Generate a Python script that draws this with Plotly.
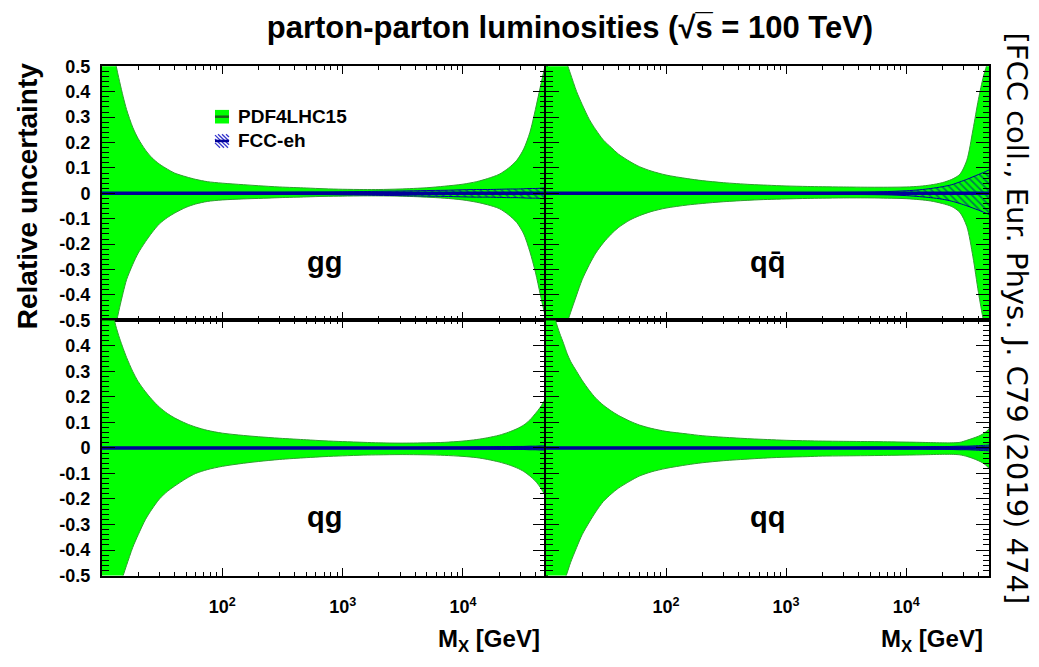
import plotly.graph_objects as go

# ---------------- data ----------------
M = [10, 11, 12, 13, 14, 15, 16, 18, 20, 23, 26, 30, 35, 40, 50, 60, 75, 100, 150, 200,
     300, 500, 700, 1000, 1500, 2000, 3000, 5000, 7000, 10000, 13000, 16000, 20000,
     24000, 28000, 32000, 36000, 40000, 44000, 48000, 52000]

gg_up = [0.85, 0.72, 0.60, 0.51, 0.44, 0.38, 0.33, 0.26, 0.215, 0.17, 0.14, 0.115, 0.095, 0.08,
         0.065, 0.055, 0.046, 0.04, 0.034, 0.03, 0.025, 0.021, 0.018, 0.016, 0.015, 0.015, 0.017,
         0.022, 0.028, 0.036, 0.046, 0.058, 0.075, 0.10, 0.13, 0.175, 0.24, 0.33, 0.42, 0.50, 0.58]
gg_lo = [-0.85, -0.72, -0.60, -0.52, -0.45, -0.39, -0.34, -0.28, -0.235, -0.19, -0.155, -0.12,
         -0.095, -0.078, -0.055, -0.042, -0.032, -0.026, -0.022, -0.02, -0.017, -0.014, -0.012,
         -0.011, -0.01, -0.01, -0.011, -0.015, -0.019, -0.026, -0.035, -0.045, -0.06, -0.085,
         -0.115, -0.16, -0.23, -0.31, -0.40, -0.48, -0.56]
gg_fcc = [0.003, 0.003, 0.003, 0.003, 0.003, 0.003, 0.003, 0.003, 0.003, 0.003, 0.003, 0.003,
          0.003, 0.003, 0.003, 0.003, 0.003, 0.004, 0.004, 0.004, 0.004, 0.005, 0.005, 0.006,
          0.007, 0.008, 0.009, 0.011, 0.012, 0.014, 0.015, 0.015, 0.016, 0.017, 0.017, 0.018,
          0.019, 0.019, 0.020, 0.021, 0.021]

qqb_up = [0.90, 0.80, 0.70, 0.62, 0.56, 0.51, 0.47, 0.40, 0.35, 0.29, 0.25, 0.21, 0.18, 0.155,
          0.125, 0.105, 0.088, 0.072, 0.058, 0.05, 0.042, 0.035, 0.032, 0.029, 0.027, 0.026,
          0.025, 0.024, 0.024, 0.025, 0.028, 0.033, 0.042, 0.055, 0.075, 0.13, 0.25, 0.37, 0.46,
          0.52, 0.58]
qqb_lo = [-0.90, -0.80, -0.70, -0.62, -0.56, -0.51, -0.47, -0.40, -0.34, -0.28, -0.235, -0.195,
          -0.16, -0.135, -0.105, -0.088, -0.072, -0.058, -0.046, -0.04, -0.033, -0.027, -0.024,
          -0.022, -0.02, -0.019, -0.018, -0.018, -0.019, -0.021, -0.025, -0.03, -0.04, -0.052,
          -0.075, -0.13, -0.25, -0.39, -0.50, -0.58, -0.65]
qqb_fcc_up = [0.003, 0.003, 0.003, 0.003, 0.003, 0.003, 0.003, 0.003, 0.003, 0.003, 0.003,
              0.003, 0.003, 0.003, 0.003, 0.003, 0.003, 0.003, 0.003, 0.003, 0.003, 0.003,
              0.003, 0.003, 0.003, 0.003, 0.004, 0.005, 0.007, 0.010, 0.014, 0.019, 0.026,
              0.034, 0.045, 0.055, 0.065, 0.074, 0.082, 0.090, 0.096]
qqb_fcc_lo = [-0.003, -0.003, -0.003, -0.003, -0.003, -0.003, -0.003, -0.003, -0.003, -0.003,
              -0.003, -0.003, -0.003, -0.003, -0.003, -0.003, -0.003, -0.003, -0.003, -0.003,
              -0.003, -0.003, -0.003, -0.003, -0.003, -0.003, -0.004, -0.005, -0.006, -0.009,
              -0.013, -0.017, -0.023, -0.031, -0.040, -0.049, -0.058, -0.066, -0.074, -0.081,
              -0.087]

qg_up = [0.75, 0.64, 0.55, 0.48, 0.43, 0.39, 0.355, 0.30, 0.26, 0.22, 0.19, 0.16, 0.135, 0.118,
         0.096, 0.082, 0.069, 0.058, 0.049, 0.044, 0.038, 0.032, 0.028, 0.025, 0.022, 0.02,
         0.019, 0.02, 0.022, 0.027, 0.033, 0.04, 0.05, 0.062, 0.075, 0.09, 0.11, 0.135, 0.16,
         0.19, 0.22]
qg_lo = [-0.85, -0.76, -0.67, -0.60, -0.55, -0.50, -0.46, -0.39, -0.34, -0.28, -0.24, -0.20,
         -0.17, -0.15, -0.12, -0.10, -0.085, -0.072, -0.06, -0.053, -0.045, -0.038, -0.034,
         -0.031, -0.028, -0.027, -0.026, -0.027, -0.029, -0.033, -0.038, -0.045, -0.055,
         -0.066, -0.078, -0.092, -0.11, -0.13, -0.155, -0.185, -0.215]
qg_fcc = [0.002, 0.002, 0.002, 0.002, 0.002, 0.002, 0.002, 0.002, 0.002, 0.002, 0.002, 0.002,
          0.002, 0.002, 0.002, 0.002, 0.002, 0.002, 0.002, 0.002, 0.002, 0.002, 0.002, 0.002,
          0.002, 0.002, 0.002, 0.003, 0.003, 0.003, 0.004, 0.004, 0.005, 0.005, 0.006, 0.006,
          0.007, 0.007, 0.008, 0.008, 0.009]

qq_up = [0.65, 0.57, 0.50, 0.45, 0.41, 0.37, 0.34, 0.30, 0.265, 0.225, 0.195, 0.168, 0.145,
         0.128, 0.105, 0.09, 0.077, 0.065, 0.055, 0.048, 0.042, 0.036, 0.033, 0.03, 0.028,
         0.027, 0.026, 0.025, 0.024, 0.023, 0.022, 0.021, 0.02, 0.02, 0.022, 0.03, 0.038,
         0.046, 0.056, 0.07, 0.09]
qq_lo = [-0.80, -0.72, -0.64, -0.58, -0.53, -0.49, -0.45, -0.39, -0.34, -0.29, -0.25, -0.21,
         -0.18, -0.158, -0.13, -0.11, -0.094, -0.08, -0.066, -0.058, -0.05, -0.043, -0.039,
         -0.036, -0.034, -0.032, -0.031, -0.03, -0.029, -0.028, -0.027, -0.026, -0.025, -0.025,
         -0.027, -0.033, -0.041, -0.05, -0.06, -0.075, -0.092]
qq_fcc = [0.002, 0.002, 0.002, 0.002, 0.002, 0.002, 0.002, 0.002, 0.002, 0.002, 0.002, 0.002,
          0.002, 0.002, 0.002, 0.002, 0.002, 0.002, 0.002, 0.002, 0.002, 0.002, 0.002, 0.002,
          0.002, 0.002, 0.002, 0.003, 0.003, 0.004, 0.004, 0.005, 0.005, 0.006, 0.007, 0.007,
          0.008, 0.009, 0.010, 0.011, 0.012]

central = [0.0] * len(M)

panels = [
    # name, label, upper, lower, fcc upper, fcc lower
    ("gg", "gg", gg_up, gg_lo, gg_fcc, [-v for v in gg_fcc]),
    ("qqbar", "qq\u0304", qqb_up, qqb_lo, qqb_fcc_up, qqb_fcc_lo),
    ("qg", "qg", qg_up, qg_lo, qg_fcc, [-v for v in qg_fcc]),
    ("qq", "qq", qq_up, qq_lo, qq_fcc, [-v for v in qq_fcc]),
]

legend_labels = ["PDF4LHC15", "FCC-eh"]

y_major_top = [0.5, 0.4, 0.3, 0.2, 0.1, 0, -0.1, -0.2, -0.3, -0.4, -0.5]
y_text_top = ["0.5", "0.4", "0.3", "0.2", "0.1", "0", "-0.1", "-0.2", "-0.3", "-0.4", "-0.5"]
y_major_bot = y_major_top[1:]
y_text_bot = y_text_top[1:]
x_major = [100, 1000, 10000]
x_text = ["10<sup>2</sup>", "10<sup>3</sup>", "10<sup>4</sup>"]
x_minor = [m * 10 ** e for e in range(1, 5) for m in range(2, 10)]

# ---------------- layout geometry (paper fractions) ----------------
W, H = 1039, 667
xl = (102 / W, 546 / W)
xr = (546 / W, 989 / W)
yt = (1 - 320 / H, 1 - 58 / H)
yb = (1 - 583 / H, 1 - 320 / H)
domains = [(xl, yt), (xr, yt), (xl, yb), (xr, yb)]

GREEN = "#00ff00"
EDGE = "#2f9e2f"
BLUE = "#000099"
FONT = "Liberation Sans"

fig = go.Figure()

for i, (name, label, up, lo, fu, fl) in enumerate(panels):
    ax = "" if i == 0 else str(i + 1)
    xa, ya = "x" + ax, "y" + ax
    fig.add_trace(go.Scatter(
        x=M + M[::-1], y=up + lo[::-1], xaxis=xa, yaxis=ya,
        fill="toself", fillcolor=GREEN, mode="lines",
        line=dict(color=EDGE, width=1, shape="spline", smoothing=0.8),
        name=legend_labels[0], showlegend=False, hoverinfo="skip"))
    fig.add_trace(go.Scatter(
        x=M + M[::-1], y=fu + fl[::-1], xaxis=xa, yaxis=ya,
        fill="toself", fillcolor=GREEN, mode="lines",
        fillpattern=dict(shape="\\", fgcolor=BLUE, bgcolor=GREEN, size=5, solidity=0.35),
        line=dict(color=BLUE, width=1, shape="spline", smoothing=0.8),
        name=legend_labels[1], showlegend=False, hoverinfo="skip"))
    fig.add_trace(go.Scatter(
        x=M, y=central, xaxis=xa, yaxis=ya, mode="lines",
        line=dict(color=BLUE, width=3.5), showlegend=False, hoverinfo="skip"))

    (dx, dy) = domains[i]
    bottom = i >= 2
    left = i % 2 == 0
    fig.layout["xaxis" + ax] = dict(
        type="log", range=[1, 4.69], domain=list(dx), anchor=ya,
        showline=True, linecolor="black", linewidth=2, mirror="allticks",
        ticks="inside", ticklen=8, tickwidth=1.3, tickcolor="black",
        tickmode="array", tickvals=x_major, ticktext=x_text,
        showticklabels=bottom, ticklabelstandoff=14,
        tickfont=dict(family=FONT, size=18, color="black", weight="bold"),
        minor=dict(ticks="inside", ticklen=4, tickwidth=1.3, tickcolor="black",
                   tickmode="array", tickvals=x_minor, showgrid=False),
        showgrid=False, zeroline=False)
    fig.layout["yaxis" + ax] = dict(
        range=[-0.5, 0.5], domain=list(dy), anchor=xa,
        showline=True, linecolor="black", linewidth=2, mirror="allticks",
        ticks="inside", ticklen=13, tickwidth=1.3, tickcolor="black",
        tickmode="array",
        tickvals=y_major_bot if bottom else y_major_top,
        ticktext=y_text_bot if bottom else y_text_top,
        showticklabels=left, ticklabelstandoff=6,
        tickfont=dict(family=FONT, size=18, color="black", weight="bold"),
        minor=dict(ticks="inside", ticklen=6.5, tickwidth=1.3, tickcolor="black",
                   dtick=0.02, tick0=0, showgrid=False),
        showgrid=False, zeroline=False)

    fig.add_annotation(
        text=label, xref=xa + " domain", yref=ya + " domain",
        x=0.5, y=0.16, showarrow=False,
        font=dict(family=FONT, size=29, color="black", weight="bold"))

    if bottom:
        fig.add_annotation(
            text="M<sub>X</sub> [GeV]", xref=xa + " domain", yref="paper",
            x=0.99, y=1 - 650 / H, xanchor="right", yanchor="middle", showarrow=False,
            font=dict(family=FONT, size=24, color="black", weight="bold"))

# ---------------- legend (drawn by hand, ROOT style) ----------------
def px(x):
    return x / W


def py(y):
    return 1 - y / H


# PDF4LHC15: green box with a dark centre line
fig.add_shape(type="rect", xref="paper", yref="paper",
              x0=px(215), x1=px(229), y0=py(117), y1=py(103),
              fillcolor=GREEN, line=dict(width=0))
fig.add_shape(type="line", xref="paper", yref="paper",
              x0=px(215), x1=px(229), y0=py(110), y1=py(110),
              line=dict(color="#1a5e1a", width=2.5))
# FCC-eh: blue hatched box with a blue centre line
for d in [-9, -5, -1, 3, 7, 11]:
    x0s, y0s = 215 + max(0, d), 128 + max(0, -d)
    length = 14 - abs(d)
    if length <= 0:
        continue
    fig.add_shape(type="line", xref="paper", yref="paper",
                  x0=px(x0s), y0=py(y0s), x1=px(x0s + length), y1=py(y0s + length),
                  line=dict(color="#3333cc", width=1.3))
fig.add_shape(type="line", xref="paper", yref="paper",
              x0=px(215), x1=px(229), y0=py(135), y1=py(135),
              line=dict(color=BLUE, width=2.5))
for lab, yy in zip(legend_labels, [110, 135]):
    fig.add_annotation(text=lab, xref="paper", yref="paper", x=px(236), y=py(yy),
                       xanchor="left", yanchor="middle", showarrow=False,
                       font=dict(family=FONT, size=19, color="black", weight="bold"))

fig.add_annotation(
    text="Relative uncertainty", xref="paper", yref="paper",
    x=px(27), y=py(192), xanchor="center", yanchor="middle", textangle=-90, showarrow=False,
    font=dict(family=FONT, size=28, color="black", weight="bold"))

fig.add_annotation(
    text="[FCC coll., Eur. Phys. J. C79 (2019) 474]", xref="paper", yref="paper",
    x=px(1017), y=py(318), xanchor="center", yanchor="middle", textangle=90, showarrow=False,
    font=dict(family="DejaVu Sans", size=29, color="black"))

fig.update_layout(
    width=W, height=H, margin=dict(l=0, r=0, t=0, b=0),
    paper_bgcolor="white", plot_bgcolor="white",
    title=dict(text="<b>parton-parton luminosities (\u221as\u0305 = 100 TeV)</b>",
               x=570 / W, xanchor="center", y=py(27), yanchor="middle",
               font=dict(family=FONT, size=31, color="black")),
    showlegend=False,
)

fig.write_html("out.html")
